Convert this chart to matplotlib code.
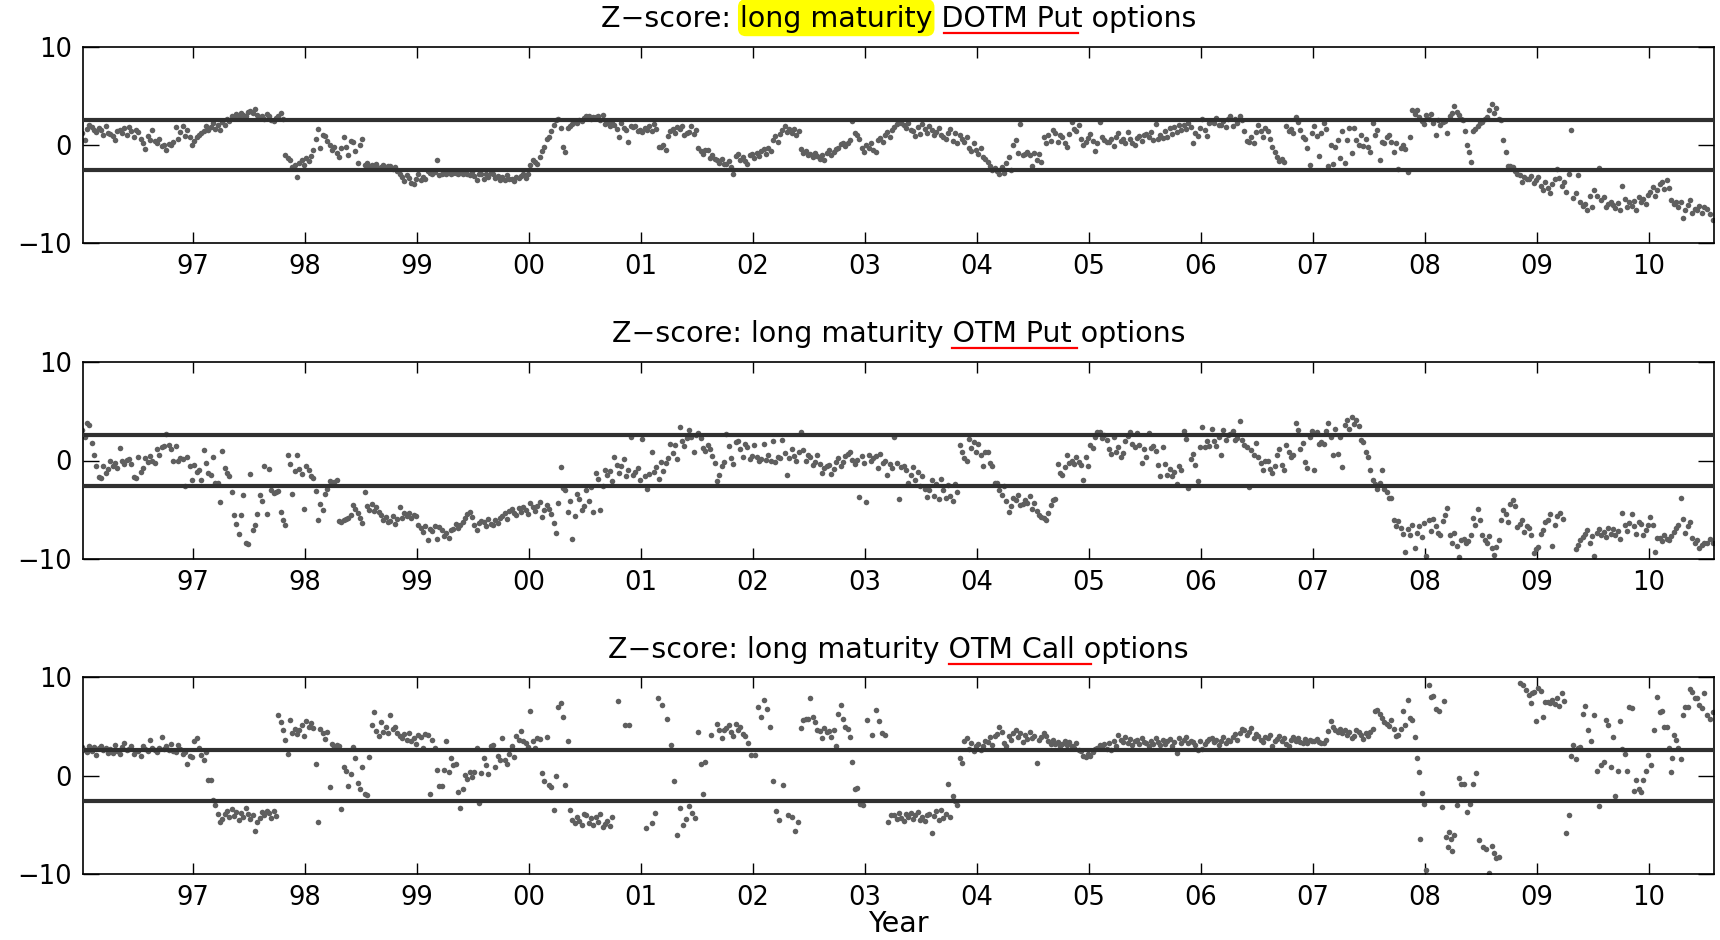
import matplotlib
matplotlib.use('Agg')
import matplotlib.pyplot as plt
from matplotlib.lines import Line2D
from matplotlib.patches import FancyBboxPatch
from matplotlib.transforms import IdentityTransform

plt.rcParams['font.family'] = 'DejaVu Sans'

# weekly z-scores, grouped by calendar month (Jan 1996 .. Jul 2010)
dotm_put = [
    # 1996
    [1.2, 0.5, 1.6, 2.0], [1.8, 1.5, 1.3, 1.7], [1.5, 1.0, 1.9, 1.2], [1.1, 0.9, 0.5, 1.4], [1.5, 1.2, 1.7, 1.0], [1.8, 1.4, 0.8, 1.5],
    [1.3, 0.6, 0.2, -0.4], [0.9, 0.5, 1.5, 0.4], [0.2, 0.6, -0.1, 0.0], [-0.5, 0.1, 0.0, 0.3], [1.8, 0.6, 1.3, 1.9], [0.9, 1.5, 0.8, 0.0],
    # 1997
    [0.4, 0.8, 1.0, 1.2], [1.4, 1.9, 1.5, 1.8], [2.2, 1.6, 2.0, 1.5], [2.3, 2.0, 2.6, 2.4], [2.9, 2.7, 3.2, 3.0], [3.3, 3.1, 2.9, 3.4],
    [3.5, 3.3, 3.7, 3.1], [2.8, 3.0, 2.6, 3.2], [2.9, 2.5, 2.4, 2.7], [3.0, 3.3, 2.6, -1.0], [-1.3, -1.5, -2.2, -2.0], [-3.3, -1.8, -1.5, -2.0],
    # 1998
    [-1.3, -1.6, -1.1, -0.5], [0.6, 1.6, -0.3, 1.0], [0.9, 0.4, 0.0, -0.5], [-0.2, -0.8, -1.2, -0.3], [0.8, -0.2, -1.0, 0.4], [0.3, -0.6, -1.8, 0.0],
    [0.6, -2.0, -1.8, -2.1], [-2.0, -2.2, -1.9, -2.3], [-2.2, -2.0, -2.3, -2.1], [-2.1, -2.4, -2.2, -2.6], [-2.9, -3.3, -3.7, -3.1], [-3.4, -3.9, -4.0, -3.5],
    # 1999
    [-3.0, -3.6, -3.3, -3.5], [-2.6, -2.8, -3.0, -2.7], [-1.5, -3.1, -3.0, -2.8], [-2.9, -2.7, -3.0, -2.8], [-2.8, -3.0, -2.7, -2.9], [-2.8, -2.9, -3.1, -2.7],
    [-3.2, -3.6, -3.0, -2.9], [-3.5, -3.0, -3.3, -2.8], [-3.0, -3.4, -3.2, -3.6], [-3.3, -3.6, -3.1, -3.5], [-3.5, -3.7, -3.3, -3.4], [-3.2, -3.0, -3.4, -2.9],
    # 2000
    [-2.0, -1.5, -1.7, -1.9], [-1.2, -0.6, -0.2, 0.6], [0.8, 1.4, 2.0, 2.5], [2.6, 1.7, -0.2, -0.7], [1.7, 1.9, 2.1, 2.3], [2.2, 2.5, 2.4, 2.7],
    [2.9, 3.0, 2.6, 2.8], [2.8, 3.0, 2.5, 3.1], [2.1, 2.3, 1.9, 2.2], [2.0, 1.6, 0.8, 2.2], [1.7, 1.5, 0.3, 1.9], [1.8, 1.9, 1.4, 1.5],
    # 2001
    [1.3, 1.7, 1.5, 1.9], [1.4, 2.1, 1.6, -0.2], [-0.2, 0.0, -0.5, 0.9], [1.4, 1.6, 1.2, 1.8], [1.6, 1.9, 1.0, 1.2], [1.3, 1.9, 1.1, 1.5],
    [-0.3, -0.6, -0.9, -0.5], [-0.5, -1.3, -1.0, -1.4], [-1.5, -1.8, -1.4, -1.9], [-1.9, -1.6, -2.2, -3.0], [-1.1, -0.9, -1.5, -1.2], [-1.6, -1.9, -1.0, -0.9],
    # 2002
    [-1.3, -0.8, -1.1, -0.6], [-0.4, -0.9, -0.3, -0.6], [0.5, 0.9, 0.3, 1.1], [1.5, 1.9, 1.3, 1.6], [1.2, 1.6, 1.0, 1.4], [-0.4, -0.8, -0.6, -1.0],
    [-0.9, -1.2, -0.8, -1.1], [-1.4, -1.0, -1.5, -0.8], [-0.5, -1.0, -0.7, -0.4], [-0.3, 0.1, 0.2, -0.1], [0.2, 0.5, 2.4, 1.2], [1.0, 0.6, -0.3, -0.7],
    # 2003
    [0.0, -0.3, 0.2, -0.5], [-0.7, 0.5, 0.7, 0.3], [1.0, 1.3, 0.8, 1.5], [1.8, 2.1, 2.4, 2.2], [2.0, 1.7, 2.2, 1.5], [1.4, 0.9, 1.8, 1.1],
    [2.1, 1.6, 1.2, 1.9], [1.5, 1.0, 1.3, 1.7], [1.0, 0.8, 0.6, 1.2], [1.6, 0.4, 1.2, 0.2], [1.0, 0.6, 0.3, 0.8], [-0.3, -0.6, 0.2, -0.5],
    # 2004
    [-0.9, -0.3, -1.2, -1.4], [-1.7, -2.1, -2.5, -2.3], [-2.6, -2.9, -2.2, -2.8], [-1.8, -1.2, -2.5, 0.0], [0.5, -0.8, 2.1, -1.0], [-0.9, -0.7, -1.0, -2.1],
    [-0.8, -1.5, -0.9, -1.7], [0.8, 0.2, 1.0, 0.4], [1.5, 1.2, 0.3, 1.0], [0.8, 0.2, -0.2, 1.1], [2.3, 1.6, 1.4, 2.0], [0.6, 0.0, 0.3, 0.7],
    # 2005
    [1.1, 0.4, -0.6, 0.2], [2.3, 0.8, 0.5, 0.3], [0.3, 0.6, -0.1, 0.8], [1.2, 0.4, 0.6, 0.2], [1.3, 0.6, 0.2, 0.0], [0.7, 0.9, 0.4, 1.0],
    [1.1, 0.8, 1.3, 0.5], [2.1, 0.6, 1.0, 0.7], [1.4, 0.8, 1.7, 1.1], [1.8, 1.3, 2.0, 1.5], [2.0, 1.6, 2.2, 1.8], [0.2, 1.2, 0.9, 1.7],
    # 2006
    [2.6, 1.5, 0.9, 2.2], [2.4, 2.2, 2.7, 2.0], [2.0, 2.4, 1.8, 2.6], [2.9, 1.9, 2.6, 2.2], [3.0, 2.5, 1.4, 0.4], [0.3, 0.8, 0.2, 1.3],
    [2.0, 1.4, 0.8, 1.7], [1.4, 0.6, -0.2, -0.7], [-1.2, -1.6, -1.4, -1.7], [1.9, 1.4, 1.6, 1.2], [2.8, 2.3, 1.5, 0.8], [0.6, -0.3, -2.0, 1.2],
    # 2007
    [1.9, 0.9, -1.1, 1.2], [2.2, 1.6, -2.1, 0.0], [-1.9, -0.2, 0.5, -1.3], [1.4, -1.8, 0.5, 1.7], [-0.8, 1.7, 0.5, 0.0], [1.0, -0.1, 0.6, -0.2],
    [-0.7, 2.2, 1.0, 1.5], [-1.5, 0.3, 0.2, 0.8], [1.0, 0.3, -0.7, 0.2], [-2.4, -0.3, 0.0, -0.4], [-2.7, 0.8, 3.6, 3.2], [3.6, 2.8, 2.4, 2.1],
    # 2008
    [3.1, 2.6, 3.2, 2.2], [1.0, 2.5, 2.0, 2.3], [2.4, 1.2, 3.0, 3.3], [4.0, 3.4, 3.1, 2.6], [2.5, 1.4, 0.0, -0.7, -1.7], [1.4, 1.6, 1.9, 2.2],
    [2.3, 2.6, 2.8, 3.6], [4.2, 3.3, 3.8, 2.6], [2.5, 0.5, -0.7, -2.1], [-2.1, -2.2, -2.6, -2.9], [-3.1, -3.8, -3.3, -3.5], [-3.5, -3.2, -3.9, -3.6],
    # 2009
    [-3.3, -4.2, -4.6, -3.8], [-4.4, -4.9, -4.0, -3.5], [-2.4, -3.4, -4.2, -3.8], [-4.8, -3.0, 1.5, -5.4], [-4.9, -3.1, -5.8, -6.2], [-6.0, -6.6, -5.2, -6.3],
    [-4.6, -5.2, -2.3, -5.6], [-5.3, -6.3, -6.0, -5.8], [-6.1, -6.4, -5.9, -6.6], [-4.2, -5.5, -6.3, -5.8], [-6.2, -5.7, -6.6, -5.3], [-5.8, -5.5, -6.0, -5.1],
    # 2010
    [-4.8, -4.3, -5.2, -4.6], [-4.0, -3.8, -4.5, -3.6], [-4.4, -5.6, -6.0, -5.8], [-6.3, -5.8, -7.4, -6.6], [-6.1, -5.6, -6.9, -6.5], [-6.6, -6.2, -6.9, -6.3],
    [-6.5, -7.0, -7.6],
]

otm_put = [
    # 1996
    [3.1, 2.4, 3.8, 3.6], [1.8, 0.6, -0.6, -1.7], [-1.8, -0.6, -1.3, -0.9], [-0.1, -0.6, -0.3, -0.8], [1.3, 0.0, -0.4, 0.1], [0.2, -0.4, -1.7, -1.8],
    [0.4, -1.2, -0.8, 0.3], [-0.2, 0.5, 0.0, -0.3], [1.2, 0.6, 1.4, 1.5], [2.7, 1.6, 1.2, 0.0], [1.5, 0.0, 0.3, 0.2], [-2.6, 0.4, -0.6, -2.0],
    # 1997
    [-0.5, -1.2, -1.0, -2.0], [1.1, -0.3, -1.3, -1.5], [0.4, -2.3, -2.3, -4.2], [1.0, -0.8, -1.3, -1.6], [-3.2, -5.5, -6.4, -7.4], [-5.5, -3.5, -8.4, -8.5],
    [-1.4, -7.0, -6.5, -5.4], [-3.5, -4.1, -0.6, -5.4], [-0.9, -3.0, -3.3, -3.2], [-3.1, -5.2, -6.0, -6.5], [0.6, -0.4, -3.4, -1.1], [0.6, -0.9, -1.4, -4.9],
    # 1998
    [-0.6, -1.0, -1.6, -1.8], [-3.1, -6.0, -4.4, -5.0], [-3.4, -2.9, -2.1, -2.4], [-2.2, -2.0, -6.1, -6.2], [-6.0, -5.9, -5.8, -5.5], [-4.5, -4.9, -5.3, -5.8],
    [-6.3, -3.2, -4.6, -5.0], [-4.4, -5.1, -4.7, -5.2], [-5.5, -6.0, -5.7, -6.2], [-6.1, -5.6, -6.4, -5.9], [-4.7, -5.8, -5.3, -5.6], [-5.3, -5.8, -5.5, -5.6],
    # 1999
    [-6.5, -6.8, -7.2, -6.6], [-8.0, -6.9, -7.1, -6.6], [-7.9, -6.7, -7.0, -7.6], [-7.3, -7.8, -7.0, -6.9], [-6.4, -6.8, -6.5, -6.2], [-5.8, -5.4, -5.2, -5.7],
    [-6.5, -7.0, -6.3, -6.1], [-6.2, -6.6, -5.9, -6.4], [-6.5, -6.0, -6.3, -5.8], [-5.6, -5.3, -5.9, -5.1], [-4.9, -5.3, -5.5, -4.8], [-5.2, -4.7, -5.0, -5.4],
    # 2000
    [-4.3, -4.7, -5.1, -4.6], [-4.2, -5.7, -5.0, -4.5], [-4.9, -5.4, -6.3, -7.3], [-4.3, -0.7, -2.8, -3.0], [-5.2, -4.1, -7.9, -5.6], [-3.4, -3.9, -5.0, -4.6],
    [-3.0, -4.1, -2.7, -5.2], [-1.3, -1.9, -5.0, -2.6], [-1.0, -1.5, -1.1, -2.1], [0.4, -0.5, -1.3, -0.6], [0.2, -1.6, -1.0, 2.4], [-1.5, -1.2, -0.8, -2.0],
    # 2001
    [2.2, -1.6, -2.9, -1.4], [0.9, -1.2, -0.7, -1.9], [-0.2, -1.1, -0.3, 0.3], [1.7, 0.8, 1.6, 0.2], [3.4, 2.0, 1.5, 2.3], [3.1, 2.4, 0.9, 2.6],
    [2.8, 2.3, 1.3, 1.0], [1.6, 1.2, 0.5, -0.3], [-2.1, -1.5, -0.6, -0.2], [2.7, 1.5, 0.3, -0.4], [1.9, 2.0, 1.2, 0.4], [1.7, 1.4, 0.2, 0.5],
    # 2002
    [1.6, 0.4, -0.1, 0.2], [1.7, 0.1, 0.6, 0.0], [2.0, -0.2, 0.4, 0.3], [2.1, 0.8, -1.5, 0.3], [1.2, 0.5, 0.0, 0.9], [2.9, 1.1, -0.1, 0.6],
    [0.4, -0.5, -0.2, 0.6], [-0.4, -1.3, -0.8, -0.6], [-0.5, -1.4, -0.9, -0.2], [0.3, -0.6, -0.2, 0.5], [0.7, 0.9, 0.1, -0.4], [0.1, -3.7, 0.5, -0.3],
    # 2003
    [-4.2, 0.6, 0.0, 0.3], [0.5, -0.8, 0.7, -0.3], [-0.1, -1.5, -0.4, -0.8], [2.4, -0.3, -3.9, -0.7], [-0.6, -1.0, -2.3, -1.5], [-0.7, -2.0, -1.2, -2.6],
    [-1.6, -2.9, -3.7, -3.0], [-2.0, -3.6, -2.4, -3.9], [-1.9, -3.0, -3.8, -2.5], [-3.6, -4.1, -2.4, -3.2], [1.6, 0.9, 0.3, -0.1], [2.2, 1.3, 1.9, 0.9],
    # 2004
    [1.7, 0.6, -0.6, 0.9], [0.9, -0.3, -0.6, -2.3], [-2.3, -3.0, -3.5, -2.6], [-4.1, -5.2, -4.6, -3.8], [-4.0, -3.5, -4.5, -4.4], [-4.0, -4.3, -3.6, -4.9],
    [-4.3, -5.1, -5.5, -5.7], [-5.8, -6.0, -5.3, -4.5], [-4.0, -3.9, -0.4, -1.3], [-1.5, -0.7, 0.6, -0.3], [0.0, -0.4, 0.4, -0.2], [-0.5, -2.0, 0.4, -0.6],
    # 2005
    [1.6, 1.3, 2.4, 2.9], [2.9, 2.3, 2.6, 2.1], [1.2, 0.7, 2.4, 0.9], [1.4, 0.4, 0.8, 2.0], [2.5, 2.9, 1.7, 1.4], [2.8, 1.6, -0.3, 1.2],
    [0.4, 2.8, 1.3, 1.5], [1.0, -0.5, -1.6, 1.4], [-0.4, -1.5, -0.9, -1.6], [-1.2, -2.4, -0.6, -1.0], [3.0, 2.2, -2.8, 0.2], [0.7, -0.5, -2.1, 1.4],
    # 2006
    [3.4, 1.4, 2.0, 1.5], [3.2, 2.0, 1.5, 2.4], [0.6, 3.1, 2.1, 2.6], [2.7, 3.0, 2.1, 2.3], [4.0, 2.1, 1.6, 1.4], [-2.7, 1.1, 0.6, 1.8],
    [0.4, -0.3, -1.0, 0.0], [-0.1, -0.9, -1.3, -0.6], [0.6, 1.2, -0.5, -1.0], [1.6, 0.9, 0.4, 0.6], [3.8, 3.1, 1.2, 1.8], [-0.2, -0.8, 2.4, 3.0],
    # 2007
    [-1.0, 2.9, 1.7, 1.9], [1.7, 3.0, 3.8, 2.4], [0.6, 3.2, 0.7, 2.4], [-0.7, 3.6, 4.1, 3.2], [4.4, 3.7, 4.1, 3.5], [2.1, 1.9, 0.9, 0.4],
    [-1.0, -2.0, -2.4, -2.9], [-2.3, -1.0, -2.9, -3.2], [-3.8, -3.8, -6.0, -6.6], [-6.1, -6.8, -7.4, -9.3], [-6.9, -7.5, -6.5, -8.9], [-7.3, -6.6, -7.7, -6.3],
    # 2008
    [-9.7, -6.0, -7.1, -5.9], [-6.6, -7.3, -7.5, -6.1], [-5.5, -4.8, -7.5, -8.3], [-7.3, -8.7, -9.8, -8.0], [-7.9, -8.3, -8.1, -7.5], [-5.8, -6.5, -4.9, -6.0],
    [-7.5, -8.0, -8.4, -7.6], [-8.9, -9.6, -8.8, -8.0], [-6.0, -5.0, -5.4, -6.2], [-4.4, -4.0, -4.6, -6.7], [-6.4, -6.0, -7.2, -6.6], [-6.8, -7.5, -9.4, -9.0],
    # 2009
    [-8.8, -7.4, -7.0, -6.2], [-6.0, -5.4, -8.7, -6.5], [-5.6, -5.3, -5.9], [], [-9.0, -8.6, -8.0, -7.7], [-7.4, -7.0, -8.3, -7.6],
    [-9.7, -7.3, -6.9, -7.5], [-7.2, -7.7, -6.8, -7.4], [-6.9, -7.5, -7.1, -7.9], [-5.3, -6.5, -7.1, -6.3], [-5.4, -6.6, -7.4, -6.2], [-6.4, -7.5, -7.0, -6.5],
    # 2010
    [-5.7, -6.5, -9.3, -7.8], [-7.8, -8.1, -7.5, -7.9], [-8.0, -7.6, -7.2, -6.8], [-6.5, -3.8, -5.9, -7.3], [-6.6, -6.2, -7.8, -8.3], [-8.0, -8.9, -8.6, -8.4],
    [-8.4, -7.9, -8.3],
]

otm_call = [
    # 1996
    [2.9, 2.6, 2.4, 3.0], [2.5, 2.9, 2.1, 2.8], [3.0, 2.6, 2.8, 2.3], [2.7, 2.3, 3.1, 2.5], [2.2, 2.9, 3.3, 2.6], [2.7, 3.0, 2.2, 2.5],
    [2.5, 2.0, 3.0, 2.7], [2.5, 3.6, 2.8, 2.6], [2.4, 2.8, 3.9, 2.7], [3.0, 2.6, 3.2, 2.5], [2.4, 3.1, 2.7, 2.2], [2.4, 1.2, 2.0, 1.9],
    # 1997
    [3.5, 3.8, 2.8, 2.1], [1.6, 2.4, -0.4, -0.4], [-2.5, -3.0, -3.9, -4.7], [-4.4, -3.9, -3.6, -4.2], [-3.4, -4.1, -3.7, -4.5], [-3.8, -4.2, -3.3, -3.9],
    [-4.4, -4.0, -5.6, -4.7], [-4.3, -3.7, -4.0, -3.6], [-3.8, -4.3, -3.6, -4.1], [6.2, 5.5, 4.6, 3.6], [2.2, 5.7, 4.3, 4.8], [4.2, 4.6, 5.2, 4.0],
    # 1998
    [5.6, 5.0, 5.4, 4.9], [1.2, -4.7, 4.8, 4.3], [3.7, 4.4, -1.1, 3.2], [2.9, 3.1, 3.0, -3.4], [0.9, 0.5, -1.0, 0.2], [2.9, 1.8, -0.7, -1.3],
    [0.9, -1.8, -1.9, 1.9], [5.2, 6.5, 4.5, 4.0], [5.5, 4.4, 5.0, 4.3], [6.2, 4.8, 5.0, 4.3], [4.0, 3.8, 4.2, 3.6], [4.3, 3.5, 3.8, 3.2],
    # 1999
    [4.1, 3.9, 2.8, 4.2], [4.1, -1.8, 3.6, 2.8], [0.6, -1.0, -1.0, 0.6], [3.5, 0.4, 1.8, 1.1], [1.2, -1.6, -3.3, -1.3], [0.1, -0.3, 0.4, -0.1],
    [0.4, 2.8, -2.8, 0.3], [1.8, 1.1, 0.2, 3.0], [3.1, 0.9, 2.0, 1.6], [3.8, 1.6, 1.2, 2.2], [3.0, 1.9, 4.0, 3.6], [4.5, 3.5, 3.3, 2.9],
    # 2000
    [6.6, 3.5, 2.8, 3.8], [3.7, 0.3, -0.5, 3.9], [-0.9, -1.1, -3.5, 0.0], [7.0, 7.4, 6.0, -0.9], [3.5, -3.5, -4.5, -4.8], [-4.2, -4.6, -5.0, -3.9],
    [-4.0, -4.8, -4.3, -5.0], [-4.2, -4.7, -3.9, -5.2], [-4.9, -4.6, -5.1, -4.2], [7.6], [5.2, 5.2], [],
    # 2001
    [-5.3], [-4.8, -3.8, 7.9], [7.2, 5.8], [3.1, -0.5, -6.0], [-3.3, -5.0, -4.4], [-3.1, -3.8, -4.3],
    [4.4, 1.2, -1.8, 1.4], [4.1], [5.3, 4.6, 3.8, 4.7], [4.9, 5.2, 4.4, 4.0], [5.3, 4.6, 5.0, 4.2], [4.0, 3.3, 2.1],
    # 2002
    [2.1, 7.0, 6.0], [7.7, 6.8, 5.0], [-0.5, -3.6, -4.5], [-0.9, -4.0], [-4.2, -5.6, -4.7], [4.9, 5.7, 5.8, 5.8],
    [7.9, 6.0, 5.5, 4.7], [4.5, 3.8, 4.9, 4.4], [4.5, 3.9, 4.7, 3.0], [6.3, 7.2, 5.8, 5.0], [4.8, 3.9, 1.4, -1.3], [-1.2, -2.9, -3.0],
    # 2003
    [5.7, 4.1], [6.7, 5.6, 4.3], [4.1, -4.7, -4.0], [-4.0, -4.4, -3.8, -4.3], [-4.6, -3.9, -4.2, -3.8], [-4.4, -4.0, -3.7, -4.5],
    [-4.2, -4.6, -4.0, -3.9], [-5.8, -4.1, -3.6, -4.5], [-3.5, -4.3, -3.9, -0.8], [-4.2, -2.1, -2.6, -3.0], [1.8, 1.3, 3.5, 3.8], [2.7, 3.3, 2.5, 3.0],
    # 2004
    [3.2, 2.6, 3.0, 3.5], [3.4, 3.9, 3.1, 4.0], [4.2, 5.0, 4.4, 3.3], [3.0, 4.0, 3.6, 4.3], [4.6, 3.9, 4.3, 3.4], [4.1, 3.7, 4.4, 3.8],
    [4.0, 1.3, 3.6, 3.9], [4.3, 4.0, 3.5, 3.2], [3.6, 3.2, 3.4, 3.0], [3.2, 3.5, 3.1, 3.4], [3.0, 2.8, 3.3, 2.6], [2.5, 2.0, 1.9, 2.2],
    # 2005
    [2.0, 2.4, 2.7, 2.8], [3.1, 2.9, 3.2, 2.7], [3.3, 2.6, 3.5, 3.0], [4.1, 3.6, 3.4, 3.9], [3.3, 3.7, 3.1, 3.5], [3.6, 3.2, 3.8, 3.4],
    [3.3, 3.0, 3.5, 3.2], [3.8, 3.4, 3.1, 3.6], [3.2, 3.5, 3.7, 3.0], [3.4, 2.3, 3.8, 3.3], [3.6, 3.9, 3.3, 3.5], [3.4, 3.1, 2.6, 3.5],
    # 2006
    [2.7, 3.2, 3.5, 3.7], [3.8, 3.4, 3.6, 3.1], [3.5, 3.9, 3.3, 3.6], [3.5, 3.9, 4.2, 3.6], [4.3, 4.8, 4.6, 4.1], [4.4, 4.9, 3.8, 4.2],
    [4.0, 3.6, 3.4, 3.9], [3.8, 4.1, 3.0, 3.5], [3.7, 4.0, 3.5, 3.8], [3.2, 3.0, 3.6, 3.9], [3.5, 3.8, 3.4, 3.3], [3.7, 3.3, 3.6, 3.5],
    # 2007
    [3.5, 3.7, 3.4, 3.3], [3.3, 3.6, 4.5, 5.6], [5.0, 4.6, 4.4, 4.8], [4.3, 4.6, 4.1, 4.4], [3.8, 4.0, 4.6, 4.4], [4.1, 3.7, 4.3, 4.0],
    [4.4, 4.8, 6.6, 6.7], [6.3, 5.9, 5.5, 5.3], [5.1, 5.7, 4.8, 4.0], [4.1, 4.8, 6.6, 5.2], [7.7, 5.9, 5.7, 3.9], [1.8, 0.4, -6.4, -1.7, -2.9],
    # 2008
    [-9.6, 9.2, 8.0, 8.1], [6.8, 6.6, -3.2], [7.6, -6.2, -7.2, -5.7, -6.4, -7.6], [-6.0, -3.0, -0.2, -0.8], [-0.8, -3.7, -2.9], [-0.8, 0.3, -6.5],
    [-7.2, -7.4, -9.9], [-7.1, -7.8, -8.3, -8.2], [], [], [9.4, 9.2, 8.7], [8.2, 7.4, 8.4, 8.5, 5.6],
    # 2009
    [8.9, 8.6, 6.0, 7.5], [7.5, 7.4, 7.7, 7.3], [7.9, 7.1, 8.4, 7.6], [-5.8, -4.0, 2.0, 3.1], [1.7, 2.8, 2.9, 6.3], [7.1, 4.6, 3.5],
    [6.2, 0.5, -3.1, 1.1], [1.4, 5.7, 5.2, 0.9], [3.9, -2.0, 0.5, 5.6], [2.7, 2.2, 0.5, 7.0], [6.9, -1.5, -0.4, -1.3], [-1.6, -0.4, 0.5, 2.1],
    # 2010
    [1.1, 4.6, 8.0], [6.5, 6.6, 5.0, 5.0], [2.8, 0.4, 1.8, 4.1, 3.6], [2.8, 1.7, 6.2, 7.0], [7.0, 8.8, 8.5, 7.9], [7.9, 7.2, 6.9, 8.4],
    [6.2, 5.8, 6.5],
]

series = [dotm_put, otm_put, otm_call]

# title pieces: before, highlighted, between, underlined, after
titles = [
    ('Z\u2212score: ', 'long maturity', ' ', 'DOTM Put', ' options'),
    ('Z\u2212score: long maturity ', '', '', 'OTM Put', ' options'),
    ('Z\u2212score: long maturity ', '', '', 'OTM Call', ' options'),
]
ul_extra = [(3, -4), (0, 5), (0, 16)]   # px tweaks of the red underline ends

year_ticks = list(range(1997, 2011))
year_labels = ['%02d' % (y % 100) for y in year_ticks]
band = 2.576

TITLE_FS = 20.5
TICK_FS = 18.5


def month_points(monthly):
    xs, ys = [], []
    for i, vals in enumerate(monthly):
        for k, v in enumerate(vals):
            xs.append(1996 + (i + (k + 0.5) / len(vals)) / 12.0)
            ys.append(v)
    return xs, ys


W, H = 1720, 940
fig = plt.figure(figsize=(W / 100, H / 100), dpi=100)
fig.patch.set_facecolor('white')

left_px, right_px = 83.3, 1714.0
rows_px = [(46.7, 243.3), (361.7, 559.3), (677.3, 874.3)]   # top, bottom

axes = []
for monthly, (top, bot) in zip(series, rows_px):
    ax = fig.add_axes([left_px / W, 1 - bot / H, (right_px - left_px) / W, (bot - top) / H])
    xs, ys = month_points(monthly)
    ax.plot(xs, ys, 'o', ms=4.0, color='#5f5f5f', mec='none', zorder=2)
    ax.axhline(band, color='#303030', lw=3.0, zorder=3)
    ax.axhline(-band, color='#303030', lw=3.0, zorder=3)
    ax.set_xlim(1996.02, 2010.58)
    ax.set_ylim(-10, 10)
    ax.set_xticks(year_ticks)
    ax.set_xticklabels(year_labels)
    ax.set_yticks([-10, 0, 10])
    ax.tick_params(axis='x', direction='in', top=True, length=8, width=1, labelsize=TICK_FS, pad=8)
    ax.tick_params(axis='y', direction='in', right=True, length=11.5, width=1, labelsize=TICK_FS, pad=8)
    for sp in ax.spines.values():
        sp.set_linewidth(1.2)
    axes.append(ax)

# titles with yellow highlight and red underline, measured with the renderer
fig.canvas.draw()
renderer = fig.canvas.get_renderer()


def text_w(s):
    t = fig.text(0, 0, s, fontsize=TITLE_FS)
    w = t.get_window_extent(renderer).width
    t.remove()
    return w


bars = text_w('||')


def adv(s):
    return text_w('|' + s + '|') - bars


cx = (left_px + right_px) / 2
for (pre, hl, mid, ul, post), (top, bot), (d0, d1) in zip(titles, rows_px, ul_extra):
    base = H - (top - 19.5)
    full = pre + hl + mid + ul + post
    t = fig.text(cx / W, base / H, full, ha='center', va='baseline', fontsize=TITLE_FS, zorder=5)
    x0 = t.get_window_extent(renderer).x0
    if hl:
        hx0 = x0 + adv(pre)
        hx1 = x0 + adv(pre + hl)
        fig.add_artist(FancyBboxPatch((hx0, base - 7), hx1 - hx0, 33,
                                      boxstyle='round,pad=2,rounding_size=8',
                                      fc='#ffff00', ec='none', transform=IdentityTransform(), zorder=1))
    ux0 = x0 + adv(pre + hl + mid) + d0
    ux1 = x0 + adv(pre + hl + mid + ul) + d1
    fig.add_artist(Line2D([ux0, ux1], [base - 6, base - 6], color='red', lw=1.6,
                          transform=IdentityTransform(), zorder=4))

fig.text(cx / W, 1 - 932 / H, 'Year', ha='center', va='baseline', fontsize=TITLE_FS)

fig.savefig('out.png', dpi=100, facecolor='white')
